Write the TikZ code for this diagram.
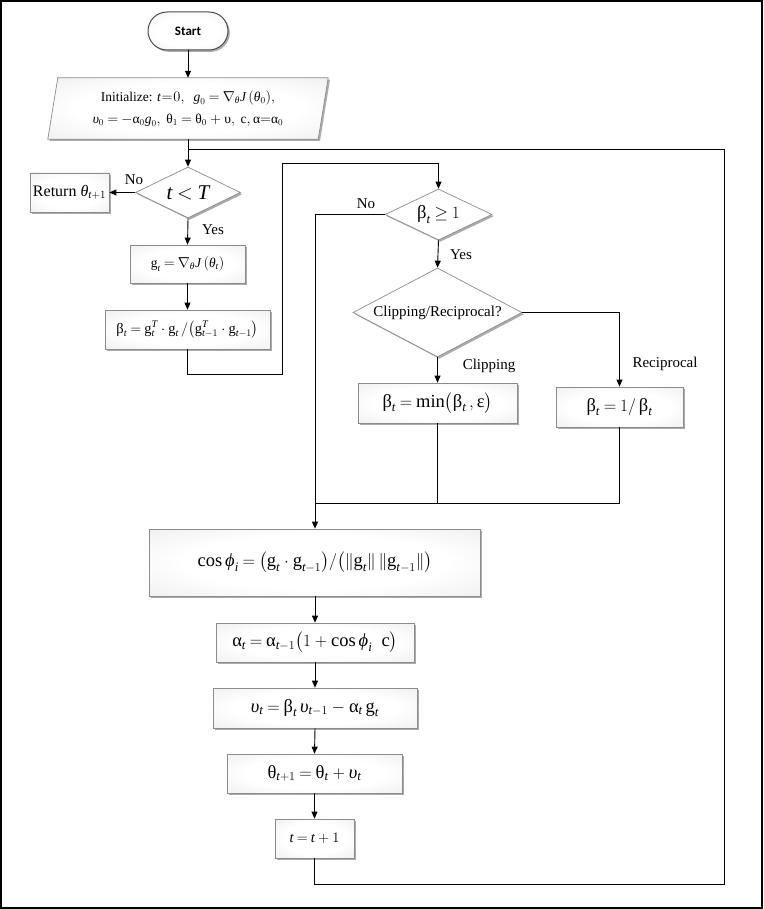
\documentclass[tikz,border=0pt]{standalone}
\usepackage{amsmath}
\usepackage{fontspec}
\setmainfont{Liberation Serif}
\newfontfamily\startfont{Carlito}
\usetikzlibrary{shapes.geometric,shadows,arrows.meta}
\pgfdeclarelayer{bg}
\pgfsetlayers{bg,main}
\newcommand\rmx[1]{\text{\upshape #1}}
\newcommand\itx[1]{\text{\itshape #1}}
\thickmuskip=4mu plus 2mu minus 1mu
\pgfdeclareradialshading{softbox}{\pgfpoint{0bp}{0bp}}{%
  color(0bp)=(white); color(20bp)=(white); color(36bp)=(black!6);
  color(47bp)=(black!14); color(60bp)=(black!20); color(71bp)=(black!22)}
\tikzset{
  every node/.style={inner sep=0pt},
  fbox/.style={draw=black!45, line width=0.7pt, shade, shading=softbox,
    drop shadow={shadow xshift=1.8pt, shadow yshift=-1.8pt, fill=black!60, opacity=0.55}},
  procbox/.style={fbox, rectangle},
  decbox/.style={fbox, diamond},
  conn/.style={line width=0.9pt, black},
  arr/.style={conn, -{Triangle[length=7pt,width=6pt]}},
  lbl/.style={font=\fontsize{15}{18}\selectfont},
  fml/.style={font=\fontsize{18.5}{22}\selectfont},
  sml/.style={font=\fontsize{14.5}{17}\selectfont},
}
\begin{document}
\begin{tikzpicture}[x=1pt,y=-1pt]
\useasboundingbox (0,0) rectangle (763,909);
\draw[line width=2pt] (1,1) rectangle (762,908);

% start
\node[fbox, draw=black!70, line width=1pt, rounded corners=19pt, minimum width=80pt, minimum height=38pt,
  font=\startfont\bfseries\fontsize{13}{15}\selectfont] (start) at (188,31) {Start};

% init parallelogram
\node[minimum width=270pt, minimum height=61pt, align=center, font=\fontsize{13.5}{22}\selectfont] (init) at (188,108.5)
  {Initialize: $\itx{t}\!=\!0,\ \ \itx{g}_{0} = \nabla_{\itx{θ}}\itx{J}\,(\itx{θ}_0),$\\
   $\itx{υ}_0 = -\rmx{α}_0\itx{g}_0,\ \rmx{θ}_1 = \rmx{θ}_0 + \rmx{υ},\ \rmx{c},\rmx{α}{=}\rmx{α}_0$};
\begin{pgfonlayer}{bg}
\path[fbox] ([xshift=5pt]init.north west) -- ([xshift=5pt]init.north east)
  -- ([xshift=-5pt]init.south east) -- ([xshift=-5pt]init.south west) -- cycle;
\end{pgfonlayer}

% left column
\node[decbox, shape aspect=2.06, minimum width=105pt, minimum height=51pt, font=\fontsize{21}{24}\selectfont] (tlt) at (188,192.5) {$\itx{t} < \itx{T}$};
\node[procbox, minimum width=79pt, minimum height=39pt, font=\fontsize{16}{19}\selectfont] (ret) at (69.5,192.5) {Return $\itx{θ}_{\itx{t}+1}$};
\node[procbox, minimum width=115pt, minimum height=38pt, font=\fontsize{13.5}{16}\selectfont] (gt) at (187.5,264)
  {$\rmx{g}_{\itx{t}} = \nabla_{\itx{θ}}\itx{J}\,(\itx{θ}_{\itx{t}})$};
\node[procbox, minimum width=165pt, minimum height=39pt, sml] (bt) at (187.5,329.5)
  {$\rmx{β}_{\itx{t}} = \rmx{g}_{\itx{t}}^{\itx{T}}\cdot\rmx{g}_{\itx{t}}\,/\bigl(\rmx{g}_{\itx{t}-1}^{\itx{T}}\cdot\rmx{g}_{\itx{t}-1}\bigr)$};

% right part
\node[decbox, shape aspect=2.1, minimum width=107pt, minimum height=51pt, fml] (bge) at (438.5,214.5) {$\rmx{β}_{\itx{t}} \geq 1$};
\node[decbox, shape aspect=1.9, minimum width=169pt, minimum height=89pt, lbl] (clip) at (437.5,312.5) {Clipping/Reciprocal?};
\node[procbox, minimum width=159pt, minimum height=40pt, fml] (minb) at (437.5,403)
  {$\rmx{β}_{\itx{t}} = \rmx{min}\bigl(\rmx{β}_{\itx{t}}\,,\rmx{ε}\bigr)$};
\node[procbox, minimum width=127pt, minimum height=40pt, fml] (recb) at (619.5,407)
  {$\rmx{β}_{\itx{t}} = 1/\,\rmx{β}_{\itx{t}}$};

% lower column
\node[procbox, minimum width=331pt, minimum height=67pt, fml] (cosb) at (315,562.5)
  {$\rmx{cos}\,\itx{ϕ}_{\itx{i}} = \bigl(\rmx{g}_{\itx{t}}\cdot\rmx{g}_{\itx{t}-1}\bigr)/\bigl(\|\rmx{g}_{\itx{t}}\|\,\|\rmx{g}_{\itx{t}-1}\|\bigr)$};
\node[procbox, minimum width=198pt, minimum height=39pt, fml] (alb) at (315,642.5)
  {$\rmx{α}_{\itx{t}} = \rmx{α}_{\itx{t}-1}\bigl(1+\rmx{cos}\,\itx{ϕ}_{\itx{i}}\ \ \rmx{c}\bigr)$};
\node[procbox, minimum width=204pt, minimum height=40pt, fml] (upsb) at (315,708)
  {$\itx{υ}_{\itx{t}} = \rmx{β}_{\itx{t}}\,\itx{υ}_{\itx{t}-1} - \rmx{α}_{\itx{t}}\,\rmx{g}_{\itx{t}}$};
\node[procbox, minimum width=175pt, minimum height=39pt, fml] (thb) at (314.5,773.5)
  {$\rmx{θ}_{\itx{t}+1} = \rmx{θ}_{\itx{t}} + \itx{υ}_{\itx{t}}$};
\node[procbox, minimum width=79pt, minimum height=39pt, sml] (tb) at (314.5,838.5)
  {$\itx{t} = \itx{t} + 1$};

% helper coordinates
\coordinate (jn) at (188,149);
\coordinate (lpt) at (724,149);
\coordinate (lpb) at (724,884);
\coordinate (c1) at (282,374);
\coordinate (c2) at (282,163);
\coordinate (mg) at (314.5,503);

% connectors
\draw[arr] (start) -- (init);
\draw[arr] (init.south) -- (tlt.north);
\draw[conn] (tb.south) |- (lpb) -- (lpt) -- (jn);
\draw[arr] (tlt.west) -- (ret.east);
\draw[arr] (tlt.south) -- (gt.north);
\draw[arr] (gt.south) -- (bt.north);
\draw[arr] (bt.south) |- (c1) -- (c2) -| (bge.north);
\draw[arr] (bge.west) -| (cosb.north);
\draw[arr] (bge.south) -- (clip.north);
\draw[arr] (clip.south) -- (minb.north);
\draw[arr] (clip.east) -| (recb.north);
\draw[conn] (minb.south) -- (minb.south |- mg);
\draw[conn] (recb.south) |- (mg);
\draw[arr] (cosb.south) -- (alb.north);
\draw[arr] (alb.south) -- (upsb.north);
\draw[arr] (upsb.south) -- (thb.north);
\draw[arr] (thb.south) -- (tb.north);

% labels
\node[lbl] (no1) at (134,180) {No};
\node[lbl] (yes1) at (213,230) {Yes};
\node[lbl] (no2) at (366,204) {No};
\node[lbl] (yes2) at (461,255) {Yes};
\node[lbl] (lclip) at (489,366) {Clipping};
\node[lbl] (lrec) at (665,364) {Reciprocal};
\end{tikzpicture}
\end{document}
